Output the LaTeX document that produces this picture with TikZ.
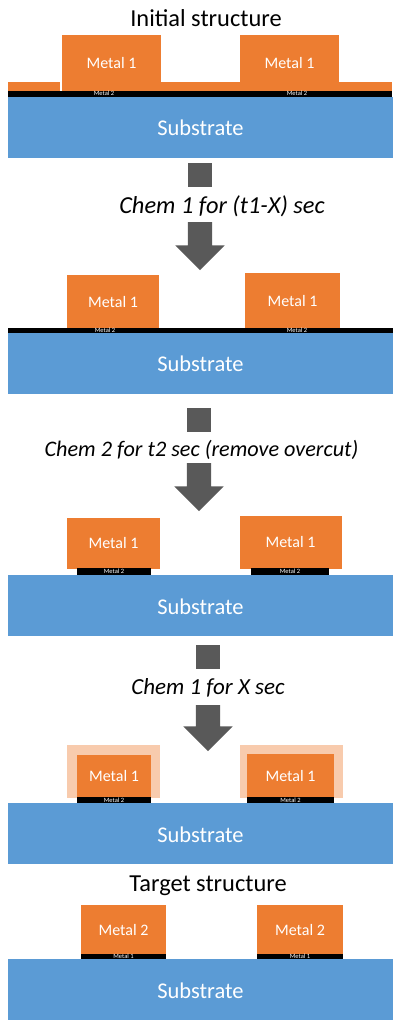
\documentclass[tikz,border=0pt]{standalone}
\usepackage{fontspec}
\setmainfont{Carlito}
\usetikzlibrary{shapes.arrows}
\definecolor{MetalOrange}{HTML}{ED7D31}
\definecolor{MetalPale}{HTML}{F8CBAD}
\definecolor{SubBlue}{HTML}{5B9BD5}
\definecolor{ArrowGray}{HTML}{595959}
\tikzset{
    metal/.style={
        fill=MetalOrange,
        text=white,
        font=\fontsize{16}{16}\selectfont,
        text height=11pt,
        text depth=0pt,
        inner sep=0pt,
        outer sep=0pt
    },
    pale/.style={
        fill=MetalPale,
        inner sep=0pt,
        outer sep=0pt
    },
    thinbar/.style={
        fill=black,
        text=white,
        font=\fontsize{6.5}{6.5}\selectfont,
        text height=4pt,
        text depth=0pt,
        inner sep=0pt,
        outer sep=0pt
    },
    substrate/.style={
        fill=SubBlue,
        text=white,
        font=\fontsize{22.5}{22.5}\selectfont,
        text height=17pt,
        text depth=0pt,
        minimum width=385pt,
        minimum height=61pt,
        inner sep=0pt,
        outer sep=0pt
    },
    title/.style={
        text=black,
        font=\fontsize{24.4}{24.4}\selectfont,
        inner sep=0pt
    },
    chem/.style={
        text=black,
        font=\fontsize{#1}{#1}\selectfont\itshape,
        inner sep=0pt
    },
    chem/.default=24,
    stub/.style={
        fill=ArrowGray,
        minimum width=24pt,
        minimum height=24pt,
        inner sep=0pt,
        outer sep=0pt
    },
    downarrow/.style={
        single arrow,
        shape border rotate=270,
        fill=ArrowGray,
        minimum width=49pt,
        minimum height=48pt,
        single arrow head extend=12.5pt,
        single arrow head indent=0pt,
        inner sep=12pt,
        outer sep=0pt
    }
}
\begin{document}
\begin{tikzpicture}[x=1pt, y=-1pt]
    \useasboundingbox (0,0) rectangle (400,1024);

    % Initial structure
    \node[title] (title1) at (206,18) {Initial structure};
    \node[metal, minimum width=52pt, minimum height=9pt, text height=0pt] (film1a) at (34,86.5) {};
    \node[metal, minimum width=330pt, minimum height=9pt, text height=0pt] (film1b) at (227,86.5) {};
    \node[metal, minimum width=99pt, minimum height=55pt] (metal1a) at (111.5,63) {Metal 1};
    \node[metal, minimum width=99pt, minimum height=55pt] (metal1b) at (289.5,63) {Metal 1};
    \node[thinbar, minimum width=384pt, minimum height=6pt] (bar1) at (200,94) {};
    \node[thinbar] (bar1a) at (104,94) {Metal 2};
    \node[thinbar] (bar1b) at (297,94) {Metal 2};
    \node[substrate] (sub1) at (200.5,127.5) {Substrate};

    % First etch
    \node[stub] (stub1) at (200,175) {};
    \node[chem=24.4] (chem1) at (222,206) {Chem 1 for (t1-X) sec};
    \node[downarrow] (arrow1) at (200,240) {};

    % After first etch
    \node[metal, minimum width=92pt, minimum height=53pt] (metal2a) at (113,301.5) {Metal 1};
    \node[metal, minimum width=95pt, minimum height=55pt] (metal2b) at (292.5,300.5) {Metal 1};
    \node[thinbar, minimum width=385pt, minimum height=5pt] (bar2) at (200.5,330.5) {};
    \node[thinbar] (bar2a) at (105,330.5) {Metal 2};
    \node[thinbar] (bar2b) at (297,330.5) {Metal 2};
    \node[substrate] (sub2) at (200.5,363) {Substrate};

    % Second etch
    \node[stub] (stub2) at (199,420) {};
    \node[chem=22.2] (chem2) at (201.5,450) {Chem 2 for t2 sec (remove overcut)};
    \node[downarrow] (arrow2) at (199,481) {};

    % After second etch
    \node[metal, minimum width=93pt, minimum height=51pt] (metal3a) at (113.5,543) {Metal 1};
    \node[metal, minimum width=102pt, minimum height=53pt] (metal3b) at (290.5,542) {Metal 1};
    \node[thinbar, minimum width=74pt, minimum height=7pt] (bar3a) at (114,571.5) {Metal 2};
    \node[thinbar, minimum width=78pt, minimum height=7pt] (bar3b) at (290,571.5) {Metal 2};
    \node[substrate] (sub3) at (200.5,605.5) {Substrate};

    % Third etch
    \node[stub] (stub3) at (208,657) {};
    \node[chem=23] (chem3) at (208,688) {Chem 1 for X sec};
    \node[downarrow, minimum height=46pt] (arrow3) at (208,722) {};

    % After third etch
    \node[pale, minimum width=93pt, minimum height=53pt] (pale4a) at (113.5,771.5) {};
    \node[pale, minimum width=103pt, minimum height=53pt] (pale4b) at (291.5,771.5) {};
    \node[metal, minimum width=74pt, minimum height=42pt] (metal4a) at (114,776) {Metal 1};
    \node[metal, minimum width=87pt, minimum height=43pt] (metal4b) at (290.5,775.5) {Metal 1};
    \node[thinbar, minimum width=74pt, minimum height=7pt] (bar4a) at (114,800.5) {Metal 2};
    \node[thinbar, minimum width=87pt, minimum height=6pt] (bar4b) at (290.5,800) {Metal 2};
    \node[substrate] (sub4) at (200.5,833.5) {Substrate};

    % Target structure
    \node[title] (title5) at (208,886) {Target structure};
    \node[metal, minimum width=85pt, minimum height=49pt] (metal5a) at (123.5,929.5) {Metal 2};
    \node[metal, minimum width=86pt, minimum height=49pt] (metal5b) at (300,929.5) {Metal 2};
    \node[thinbar, minimum width=85pt, minimum height=5pt] (bar5a) at (123.5,956.5) {Metal 1};
    \node[thinbar, minimum width=86pt, minimum height=5pt] (bar5b) at (300,956.5) {Metal 1};
    \node[substrate] (sub5) at (200.5,989.5) {Substrate};
\end{tikzpicture}
\end{document}
